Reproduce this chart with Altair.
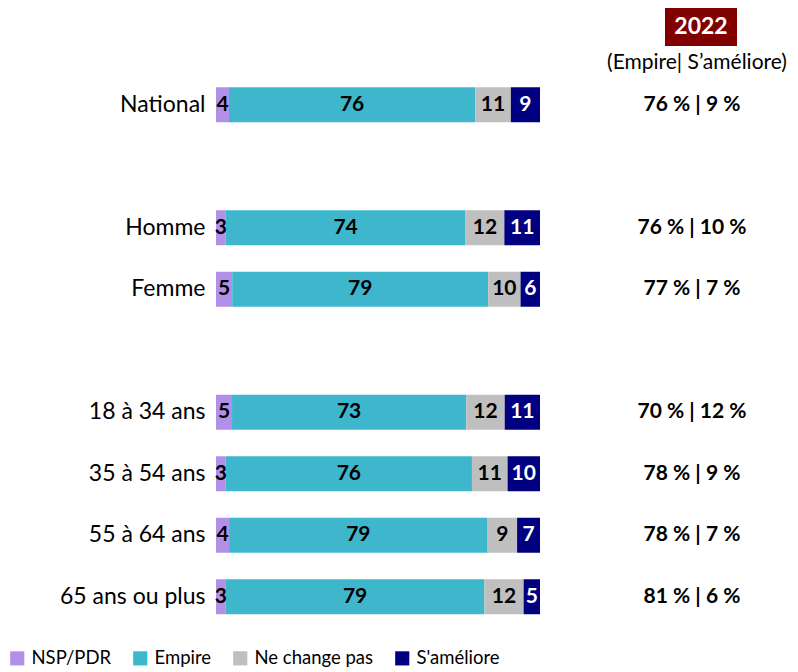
import altair as alt
import pandas as pd

FONT = "Lato"

groups = ["National", "Homme", "Femme", "18 à 34 ans", "35 à 54 ans", "55 à 64 ans", "65 ans ou plus"]
nsp = [4, 3, 5, 5, 3, 4, 3]
empire = [76, 74, 79, 73, 76, 79, 79]
nechange = [11, 12, 10, 12, 11, 9, 12]
ameliore = [9, 11, 6, 11, 10, 7, 5]
summary = ["76 % | 9 %", "76 % | 10 %", "77 % | 7 %", "70 % | 12 %", "78 % | 9 %", "78 % | 7 %", "81 % | 6 %"]

cats = ["NSP/PDR", "Empire", "Ne change pas", "S'améliore"]
colors = ["#B290E8", "#3EB7CC", "#BFBFBF", "#000080"]

ydomain = ["National", " ", "Homme", "Femme", "  ", "18 à 34 ans", "35 à 54 ans", "55 à 64 ans", "65 ans ou plus"]

rows = []
for i, g in enumerate(groups):
    for j, (c, vals) in enumerate(zip(cats, [nsp, empire, nechange, ameliore])):
        rows.append({"group": g, "cat": c, "order": j, "value": vals[i]})
df = pd.DataFrame(rows)
sumdf = pd.DataFrame({"group": groups, "label": summary})

yscale = alt.Scale(domain=ydomain, paddingInner=0, paddingOuter=0)
yaxis = alt.Axis(title=None, ticks=False, domain=False, labelFontSize=23, labelFont=FONT,
                 labelColor="black", labelPadding=11, labelLimit=300)
yenc = alt.Y("group:N", scale=yscale, sort=ydomain, axis=yaxis)

base = alt.Chart(df).transform_stack(
    stack="value", groupby=["group"], sort=[alt.SortField("order", order="ascending")],
    as_=["v0", "v1"], offset="normalize"
).transform_calculate(mid="(datum.v0 + datum.v1) / 2")

bars = base.mark_bar(size=35).encode(
    x=alt.X("v0:Q", scale=alt.Scale(domain=[0, 1]), axis=None),
    x2="v1:Q",
    y=yenc,
    color=alt.Color("cat:N", scale=alt.Scale(domain=cats, range=colors),
                    legend=alt.Legend(title=None, orient="none", direction="horizontal",
                                      legendX=-208, legendY=575, symbolType="square",
                                      symbolSize=200, symbolStrokeWidth=0, labelFontSize=18.5,
                                      labelFont=FONT, labelColor="black", columnPadding=19,
                                      labelOffset=5)),
)

texts = base.mark_text(font=FONT, fontSize=21, fontWeight="bold", baseline="middle").encode(
    x=alt.X("mid:Q", scale=alt.Scale(domain=[0, 1]), axis=None),
    y=yenc,
    text="value:Q",
    color=alt.condition(alt.datum.cat == "S'améliore", alt.value("white"), alt.value("black")),
)

summ = alt.Chart(sumdf).mark_text(font=FONT, fontSize=21, fontWeight="bold", baseline="middle", color="black").encode(
    x=alt.value(476), y=yenc, text="label:N"
)

hdr = pd.DataFrame({"t": ["2022"], "s": ["(Empire| S’améliore)"]})
box = alt.Chart(hdr).mark_rect(color="#800000").encode(
    x=alt.value(449), x2=alt.value(521), y=alt.value(-66), y2=alt.value(-28)
)
boxtxt = alt.Chart(hdr).mark_text(font=FONT, fontSize=23, fontWeight="bold", color="white", baseline="middle").encode(
    x=alt.value(485), y=alt.value(-47), text="t:N"
)
sub = alt.Chart(hdr).mark_text(font=FONT, fontSize=21, color="black", baseline="middle").encode(
    x=alt.value(481), y=alt.value(-11), text="s:N"
)

chart = alt.layer(bars, texts, summ, box, boxtxt, sub).properties(
    width=324, height=553.5, autosize="none",
    padding={"left": 208, "top": 66, "right": 250, "bottom": 44},
).configure_view(stroke=None)

chart.save("out.html", embed_options={"renderer": "svg", "actions": False})
